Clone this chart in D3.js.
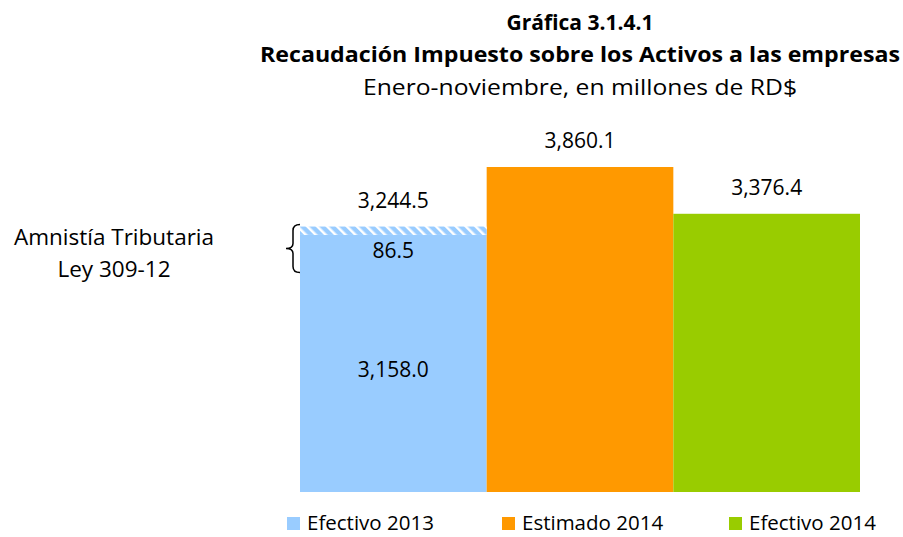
<!DOCTYPE html>
<html>
<head>
<meta charset="utf-8" />
<title>Gráfica 3.1.4.1</title>
<script src="https://d3js.org/d3.v7.min.js"></script>
<style>
  body { margin: 0; background-color: #ffffff; }
  svg text { font-family: 'Open Sans', sans-serif; fill: #000; }
</style>
</head>
<body>
<svg id="chart"></svg>
<script>
// data
var categories = ["Efectivo 2013", "Estimado 2014", "Efectivo 2014"];
var baseValues = [3158.0, 3860.1, 3376.4];
var amnistiaValues = [86.5, 0, 0];
var colors = ["#99CCFF", "#FF9900", "#99CC00"];
var titleLines = ["Gráfica 3.1.4.1", "Recaudación Impuesto sobre los Activos a las empresas", "Enero-noviembre, en millones de RD$"];
var noteLines = ["Amnistía Tributaria", "Ley 309-12"];
var axisMin = 500;

var width = 903, height = 537;
var margin = { top: 167, right: 43, bottom: 45, left: 300 };

var svg = d3.select("#chart")
  .attr("width", width)
  .attr("height", height);

var fmt = d3.format(",.1f");
var totals = baseValues.map(function(v, i) { return v + amnistiaValues[i]; });

var x = d3.scaleBand()
  .domain(categories)
  .range([margin.left, width - margin.right])
  .padding(0);

var y = d3.scaleLinear()
  .domain([axisMin, d3.max(totals)])
  .range([height - margin.bottom, margin.top]);

// hatch pattern for the amnistia part
var defs = svg.append("defs");
var pat = defs.append("pattern")
  .attr("id", "hatch")
  .attr("patternUnits", "userSpaceOnUse")
  .attr("width", 7)
  .attr("height", 7)
  .attr("patternTransform", "rotate(-45)");
pat.append("rect").attr("width", 7).attr("height", 7).attr("fill", "#99CCFF");
pat.append("rect").attr("x", 0).attr("width", 2.5).attr("height", 7).attr("fill", "#ffffff");

// titles
var tx = 580;
svg.append("text").attr("x", tx).attr("y", 30).attr("text-anchor", "middle")
  .attr("font-size", "21px").attr("font-weight", 700).text(titleLines[0]);
svg.append("text").attr("x", tx).attr("y", 62).attr("text-anchor", "middle")
  .attr("font-size", "21px").attr("font-weight", 700)
  .attr("textLength", 640).attr("lengthAdjust", "spacingAndGlyphs")
  .text(titleLines[1]);
svg.append("text").attr("x", tx).attr("y", 95).attr("text-anchor", "middle")
  .attr("font-size", "22px")
  .attr("textLength", 434).attr("lengthAdjust", "spacingAndGlyphs")
  .text(titleLines[2]);

// bars
var g = svg.append("g");
g.selectAll(".bar")
  .data(categories)
  .enter().append("rect")
  .attr("class", "bar")
  .attr("x", function(d) { return x(d); })
  .attr("width", x.bandwidth())
  .attr("y", function(d, i) { return y(baseValues[i]); })
  .attr("height", function(d, i) { return y(axisMin) - y(baseValues[i]); })
  .attr("fill", function(d, i) { return colors[i]; });

g.selectAll(".amn")
  .data(categories.filter(function(d, i) { return amnistiaValues[i] > 0; }))
  .enter().append("rect")
  .attr("class", "amn")
  .attr("x", function(d) { return x(d); })
  .attr("width", x.bandwidth())
  .attr("y", function(d) { var i = categories.indexOf(d); return y(totals[i]); })
  .attr("height", function(d) { var i = categories.indexOf(d); return y(baseValues[i]) - y(totals[i]); })
  .attr("fill", "url(#hatch)");

// total labels
g.selectAll(".tot")
  .data(categories)
  .enter().append("text")
  .attr("x", function(d) { return x(d) + x.bandwidth() / 2; })
  .attr("y", function(d, i) { return y(totals[i]) - 19; })
  .attr("text-anchor", "middle")
  .attr("font-size", "21px")
  .text(function(d, i) { return fmt(totals[i]); });

// inner labels for 2013
var c0 = categories[0];
var cx0 = x(c0) + x.bandwidth() / 2;
svg.append("text")
  .attr("x", cx0)
  .attr("y", (y(baseValues[0]) + y(axisMin)) / 2 + 14)
  .attr("text-anchor", "middle")
  .attr("font-size", "21px")
  .text(fmt(baseValues[0]));

var amnY = y(totals[0]) + 31;
svg.append("text")
  .attr("x", cx0)
  .attr("y", amnY)
  .attr("text-anchor", "middle")
  .attr("font-size", "21px")
  .text(fmt(amnistiaValues[0]));

// brace
var bTop = y(totals[0]) - 2, bBot = bTop + 48, bx = x(c0) - 5, bMid = (bTop + bBot) / 2;
svg.append("path")
  .attr("d", "M" + (bx + 5) + "," + bTop +
    " Q" + (bx - 2) + "," + bTop + " " + (bx - 2) + "," + (bTop + 6) +
    " L" + (bx - 2) + "," + (bMid - 5) +
    " Q" + (bx - 2) + "," + bMid + " " + (bx - 9) + "," + bMid +
    " Q" + (bx - 2) + "," + bMid + " " + (bx - 2) + "," + (bMid + 5) +
    " L" + (bx - 2) + "," + (bBot - 6) +
    " Q" + (bx - 2) + "," + bBot + " " + (bx + 5) + "," + bBot)
  .attr("fill", "none")
  .attr("stroke", "#000")
  .attr("stroke-width", 1.5);

svg.selectAll(".note")
  .data(noteLines)
  .enter().append("text")
  .attr("class", "note")
  .attr("x", 114)
  .attr("y", function(d, i) { return 245 + i * 32; })
  .attr("text-anchor", "middle")
  .attr("font-size", "22.5px")
  .text(function(d) { return d; });

// legend
var legendX = [287, 502, 729];
var leg = svg.selectAll(".leg")
  .data(categories)
  .enter().append("g")
  .attr("class", "leg")
  .attr("transform", function(d, i) { return "translate(" + legendX[i] + ",517)"; });
leg.append("rect").attr("width", 13).attr("height", 13)
  .attr("fill", function(d, i) { return colors[i]; });
leg.append("text").attr("x", 20).attr("y", 13)
  .attr("font-size", "20.5px")
  .text(function(d) { return d; });
</script>
</body>
</html>
